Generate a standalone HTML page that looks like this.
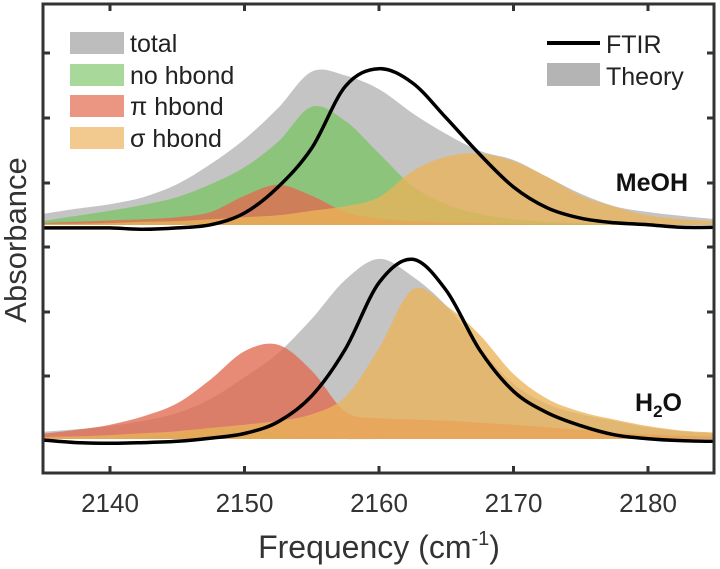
<!DOCTYPE html>
<html><head><meta charset="utf-8"><style>
html,body{margin:0;padding:0;background:#fff;}
svg{display:block;font-family:"Liberation Sans",sans-serif;}
</style></head><body>
<svg id="chart" width="720" height="569" viewBox="0 0 720 569">
<g id="fills"></g>
<g id="frame"></g>
<g>
 <rect x="70" y="32" width="54" height="22" fill="#bdbdbd"/>
 <text x="130" y="52" font-size="25" fill="#222">total</text>
 <rect x="70" y="64" width="54" height="22" fill="#a9d89b"/>
 <text x="130" y="84" font-size="25" fill="#222">no hbond</text>
 <rect x="70" y="95" width="54" height="22" fill="#eb9683"/>
 <text x="130" y="115" font-size="25" fill="#222">π hbond</text>
 <rect x="70" y="127" width="54" height="22" fill="#f2c98f"/>
 <text x="130" y="147" font-size="25" fill="#222">σ hbond</text>
</g>
<g>
 <line x1="547" y1="43" x2="600" y2="43" stroke="#000" stroke-width="4"/>
 <text x="606" y="53" font-size="25" fill="#222">FTIR</text>
 <rect x="547" y="63" width="53" height="23" fill="#b4b4b4"/>
 <text x="606" y="85" font-size="25" fill="#222">Theory</text>
</g>
<text x="688" y="191" font-size="25" font-weight="bold" text-anchor="end" fill="#111">MeOH</text>
<text x="635" y="411" font-size="25" font-weight="bold" fill="#111">H<tspan font-size="17" dy="6">2</tspan><tspan dy="-6">O</tspan></text>
<g id="xticks"></g>
<text x="379" y="558" font-size="32" text-anchor="middle" fill="#333">Frequency (cm<tspan font-size="20" dy="-13">-1</tspan><tspan dy="13">)</tspan></text>
<text transform="translate(26,240) rotate(-90)" font-size="31" text-anchor="middle" fill="#333">Absorbance</text>
</svg>
<script>
const freqs = [2135,2137.5,2140,2142.5,2145,2147.5,2150,2152.5,2155,2157.5,2160,2162.5,2165,2167.5,2170,2172.5,2175,2177.5,2180,2182.5,2185];
const xTicks = [2140,2150,2160,2170,2180];
const meohTotal = [0.17,0.25,0.32,0.43,0.63,0.94,1.32,1.8,2.36,2.3,2.09,1.72,1.4,1.14,1.0,0.74,0.48,0.29,0.2,0.14,0.09];
const meohNo = [0.06,0.14,0.22,0.31,0.43,0.63,0.89,1.28,1.82,1.6,1.1,0.6,0.32,0.17,0.09,0.05,0.03,0.02,0.01,0,0];
const meohPi = [0.03,0.05,0.07,0.09,0.12,0.2,0.45,0.62,0.45,0.2,0.1,0.06,0.04,0.03,0.02,0.01,0.01,0,0,0,0];
const meohSigma = [0.02,0.02,0.03,0.05,0.06,0.09,0.12,0.15,0.22,0.29,0.43,0.83,1.05,1.1,0.98,0.74,0.45,0.28,0.15,0.09,0.06];
const meohFtir = [-0.03,-0.03,-0.03,-0.05,-0.03,0.02,0.2,0.6,1.2,2.15,2.42,2.2,1.66,1.1,0.6,0.28,0.12,0.05,0.02,-0.02,-0.02];
const h2oTotal = [0.11,0.15,0.2,0.28,0.4,0.62,0.95,1.32,1.85,2.45,2.77,2.5,2.05,1.4,0.85,0.54,0.38,0.28,0.18,0.12,0.09];
const h2oNo = [0,0,0.01,0.03,0.08,0.17,0.15,0.08,0.03,0,0,0,0,0,0,0,0,0,0,0,0];
const h2oPi = [0.08,0.14,0.22,0.35,0.55,0.92,1.35,1.45,1.05,0.42,0.32,0.3,0.28,0.25,0.22,0.18,0.14,0.1,0.07,0.05,0.04];
const h2oSigma = [0.03,0.04,0.06,0.09,0.12,0.17,0.22,0.28,0.38,0.65,1.4,2.3,2.05,1.6,1.0,0.62,0.42,0.3,0.2,0.13,0.1];
const h2oFtir = [0,-0.04,-0.05,-0.04,-0.02,0.03,0.1,0.28,0.68,1.4,2.42,2.78,2.3,1.38,0.75,0.42,0.22,0.08,0.02,-0.01,-0.02];

const NS='http://www.w3.org/2000/svg';
const X0=42.75, XS=13.45, UNIT=65;
const xPix = f => X0 + XS*(f-2135);
const yPix = (v,base) => base - v*UNIT;
function smoothPath(pts){
  let d='M'+pts[0][0].toFixed(1)+','+pts[0][1].toFixed(1);
  for(let i=0;i<pts.length-1;i++){
    const p0=pts[Math.max(0,i-1)],p1=pts[i],p2=pts[i+1],p3=pts[Math.min(pts.length-1,i+2)];
    const c1=[p1[0]+(p2[0]-p0[0])/6,p1[1]+(p2[1]-p0[1])/6];
    const c2=[p2[0]-(p3[0]-p1[0])/6,p2[1]-(p3[1]-p1[1])/6];
    d+=' C'+c1.map(n=>n.toFixed(1))+' '+c2.map(n=>n.toFixed(1))+' '+p2[0].toFixed(1)+','+p2[1].toFixed(1);
  }
  return d;
}
const fills=document.getElementById('fills');
function area(vals,base,color,name){
  const pts=vals.map((v,i)=>[xPix(freqs[i]),yPix(Math.max(v,0),base)]);
  const p=document.createElementNS(NS,'path');
  p.setAttribute('d',smoothPath(pts)+' L'+xPix(freqs[freqs.length-1])+','+base+' L'+xPix(freqs[0])+','+base+' Z');
  p.setAttribute('fill',color);
  p.setAttribute('fill-opacity','0.78');
  
  
  fills.appendChild(p);
}
function line(vals,base,name){
  const pts=vals.map((v,i)=>[xPix(freqs[i]),yPix(v,base)]);
  const p=document.createElementNS(NS,'path');
  p.setAttribute('d',smoothPath(pts));
  p.setAttribute('fill','none');p.setAttribute('stroke','#000');p.setAttribute('stroke-width','3.5');
  
  
  fills.appendChild(p);
}
const TB=225, BB=439;
area(meohTotal,TB,'#b4b4b4','meoh-total-area');
area(meohNo,TB,'#7cc466','meoh-no-hbond-area');
area(meohPi,TB,'#e06a50','meoh-pi-hbond-area');
area(meohSigma,TB,'#eab35a','meoh-sigma-hbond-area');
line(meohFtir,TB+1,'meoh-ftir-line');
area(h2oTotal,BB,'#b4b4b4','h2o-total-area');
area(h2oNo,BB,'#7cc466','h2o-no-hbond-area');
area(h2oPi,BB,'#e06a50','h2o-pi-hbond-area');
area(h2oSigma,BB,'#eab35a','h2o-sigma-hbond-area');
line(h2oFtir,BB+1,'h2o-ftir-line');

const frame=document.getElementById('frame');
const r=document.createElementNS(NS,'rect');
r.setAttribute('x',43);r.setAttribute('y',4);r.setAttribute('width',671);r.setAttribute('height',469);
r.setAttribute('fill','none');r.setAttribute('stroke','#333');r.setAttribute('stroke-width','3');


frame.appendChild(r);
function tick(x1,y1,x2,y2){
  const l=document.createElementNS(NS,'line');
  l.setAttribute('x1',x1);l.setAttribute('y1',y1);l.setAttribute('x2',x2);l.setAttribute('y2',y2);
  l.setAttribute('stroke','#333');l.setAttribute('stroke-width','3');
  
  
  frame.appendChild(l);
}
const xt=document.getElementById('xticks');
xTicks.forEach(f=>{
  const x=xPix(f);
  tick(x,473,x,466); tick(x,4,x,11);
  const t=document.createElementNS(NS,'text');
  t.setAttribute('x',x);t.setAttribute('y',512);t.setAttribute('font-size','26');
  t.setAttribute('text-anchor','middle');t.setAttribute('fill','#333');
  t.textContent=f;
  
  
  xt.appendChild(t);
});
[53,118,183,247,312,376].forEach(y=>{tick(43,y,50,y);tick(714,y,707,y);});
</script>
</body></html>
